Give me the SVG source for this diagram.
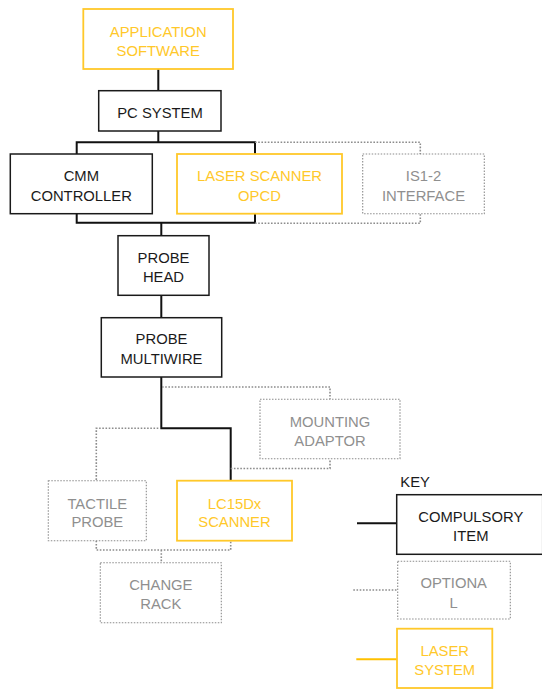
<svg xmlns="http://www.w3.org/2000/svg" width="542" height="689" viewBox="0 0 542 689">
<style>
text{font-family:"Liberation Sans",Arial,sans-serif;font-size:14.8px;text-anchor:middle}
.req rect{fill:#fff;stroke:#1a1a1a;stroke-width:1.5}
.req text{fill:#1a1a1a}
.las rect{fill:#fff;stroke:#FFC82A;stroke-width:1.8}
.las text{fill:#FFC82A}
.opt rect{fill:#fff;stroke:#8c8c8c;stroke-width:1.1;stroke-dasharray:1.5 1.5}
.opt text{fill:#8f8f8f}
.c{fill:none;stroke:#111;stroke-width:2}
.d{fill:none;stroke:#8c8c8c;stroke-width:1.6;stroke-dasharray:1.6 1.6}
.y{fill:none;stroke:#FFC000;stroke-width:2}
</style>
<g id="connectors">
<path class="c" d="M158.3 69V91M158.3 131V142.3M76.7 154V142.3H255V154M76.7 213.7V222.7H255V213.7M161.3 222.7V235.7M161.3 295.3V317.7M161.3 377V428.3H230.7V480.7"/>
<path class="d" d="M255 142.3H420.3V154M255 223.3H420.3V213.7M162 387H330V399.3M158.3 428.3H96.3V480.7M230.7 468.5H330V458.7M96.3 540.7V550H230.7V540.7M161.3 550V562.7"/>
<path class="c" d="M357 523.3H396.7"/>
<path class="d" d="M353.3 590H397.7"/>
<path class="y" d="M356.3 659.3H397"/>
</g>
<g id="app" class="las"><rect x="83.3" y="9" width="149.7" height="60"/><text x="158.2" y="36.7">APPLICATION</text><text x="158.2" y="56">SOFTWARE</text></g>
<g id="pc" class="req"><rect x="98.7" y="90.7" width="122.3" height="40.3"/><text x="160" y="118.3">PC SYSTEM</text></g>
<g id="cmm" class="req"><rect x="10.3" y="154" width="142" height="59.7"/><text x="81.3" y="181">CMM</text><text x="81.3" y="200.7">CONTROLLER</text></g>
<g id="opcd" class="las"><rect x="177" y="154" width="165" height="59.7"/><text x="259.5" y="181">LASER SCANNER</text><text x="259.5" y="200.7">OPCD</text></g>
<g id="is12" class="opt"><rect x="362.7" y="154" width="121.6" height="59.7"/><text x="423.5" y="181">IS1-2</text><text x="423.5" y="200.7">INTERFACE</text></g>
<g id="head" class="req"><rect x="118" y="235.7" width="91" height="59.6"/><text x="163.5" y="263.3">PROBE</text><text x="163.5" y="282.3">HEAD</text></g>
<g id="multiwire" class="req"><rect x="101.3" y="317.7" width="120.4" height="59.3"/><text x="161.5" y="344.3">PROBE</text><text x="161.5" y="364">MULTIWIRE</text></g>
<g id="mount" class="opt"><rect x="260" y="399.3" width="140" height="59.4"/><text x="330" y="426.7">MOUNTING</text><text x="330" y="446">ADAPTOR</text></g>
<g id="tactile" class="opt"><rect x="48.3" y="480.7" width="98" height="60"/><text x="97.3" y="508.7">TACTILE</text><text x="97.3" y="527.3">PROBE</text></g>
<g id="lc15" class="las"><rect x="177" y="480.7" width="115" height="60"/><text x="234.5" y="508.7">LC15Dx</text><text x="234.5" y="527.3">SCANNER</text></g>
<g id="rack" class="opt"><rect x="100.3" y="562.7" width="121" height="60"/><text x="160.8" y="590">CHANGE</text><text x="160.8" y="608.7">RACK</text></g>
<g id="key"><text x="400.3" y="486.7" style="text-anchor:start;fill:#1a1a1a">KEY</text></g>
<g id="key-compulsory" class="req"><rect x="396.7" y="494.7" width="146" height="59.6"/><text x="470.8" y="522.3">COMPULSORY</text><text x="470.8" y="541.3">ITEM</text></g>
<g id="key-optional" class="opt"><rect x="397.7" y="561.3" width="112.6" height="57.7"/><text x="453.7" y="588.3">OPTIONA</text><text x="453.7" y="608">L</text></g>
<g id="key-laser" class="las"><rect x="397" y="628.7" width="95.3" height="59.3"/><text x="444.7" y="656">LASER</text><text x="444.7" y="675">SYSTEM</text></g>
</svg>
